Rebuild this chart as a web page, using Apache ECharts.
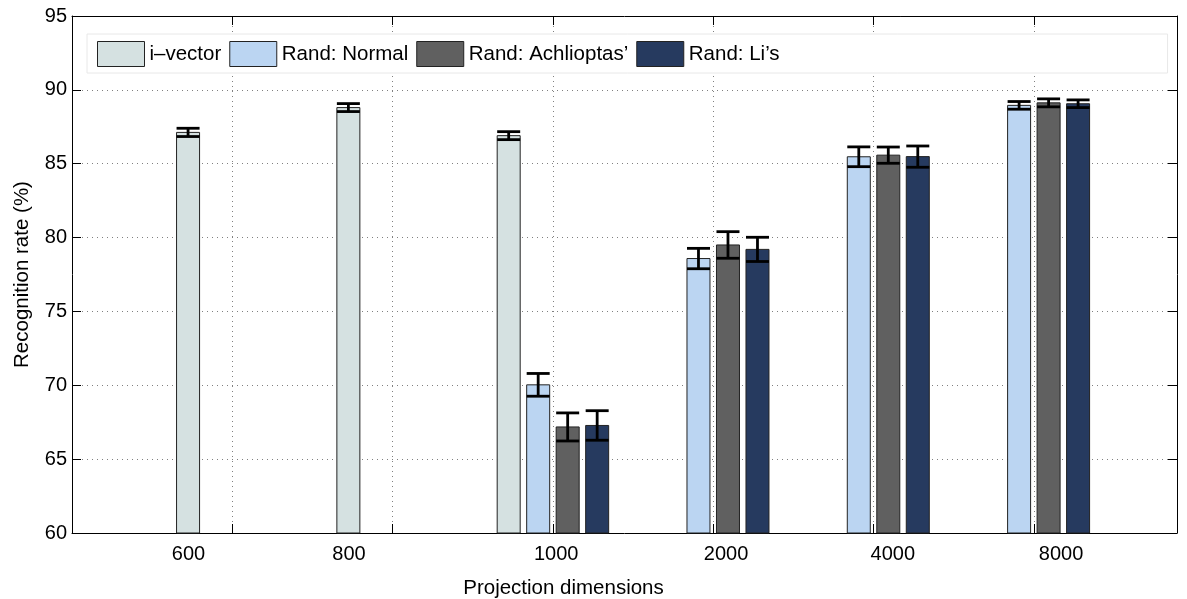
<!DOCTYPE html>
<html><head><meta charset="utf-8">
<script src="https://cdn.jsdelivr.net/npm/echarts@6/dist/echarts.min.js"></script>
<style>html,body{margin:0;padding:0;background:#fff}#c{width:1187px;height:599px}</style>
</head><body><div id="c"></div>
<script>
// ---- data ----
const categories = ['600', '800', '1000', '2000', '4000', '8000'];
const categoryLabelAt = [0.727, 1.728, 3.02, 4.08, 5.12, 6.17];
const seriesNames = ['i\u2013vector', 'Rand: Normal', 'Rand: Achlioptas\u2019', 'Rand: Li\u2019s'];
const ivector = [87.12, 88.80, 86.90, null, null, null];
const ivectorErr = [0.28, 0.27, 0.27, null, null, null];
const randNormal = [null, null, 70.03, 78.58, 85.47, 88.95];
const randNormalErr = [null, null, 0.77, 0.69, 0.67, 0.26];
const randAchlioptas = [null, null, 67.18, 79.50, 85.58, 89.12];
const randAchlioptasErr = [null, null, 0.95, 0.90, 0.55, 0.27];
const randLi = [null, null, 67.28, 79.20, 85.48, 89.06];
const randLiErr = [null, null, 1.00, 0.82, 0.72, 0.26];
const yTickMin = 60, yTickMax = 95, yTickStep = 5;

// ---- layout / style ----
const X_MAX = 6.893, GROUP_OFFSET = 0.724, SLOT = 0.184, BAR_W = 0.1435;
const colors = ['#d5e1e1', '#bbd5f2', '#606060', '#263a5f'];
const FONT = 'Liberation Sans, Arial, Helvetica, sans-serif';
const values = [ivector, randNormal, randAchlioptas, randLi];
const errors = [ivectorErr, randNormalErr, randAchlioptasErr, randLiErr];

function makeRender(slot) {
  return function (params, api) {
    const k = api.value(0), v = api.value(1), e = api.value(2);
    const x = k + GROUP_OFFSET + slot * SLOT;
    const top = api.coord([x, v]);
    const base = api.coord([x, yTickMin]);
    const hi = api.coord([x, v + e]);
    const lo = api.coord([x, v - e]);
    const w = api.size([BAR_W, 0])[0];
    const st = api.style();
    const ls = { stroke: '#000', lineWidth: 2.8 };
    return {
      type: 'group',
      children: [
        { type: 'rect', shape: { x: top[0] - w / 2, y: top[1], width: w, height: base[1] - top[1] },
          style: { fill: st.fill, stroke: '#222', lineWidth: 1 } },
        { type: 'line', shape: { x1: top[0], y1: hi[1], x2: top[0], y2: lo[1] }, style: ls },
        { type: 'line', shape: { x1: top[0] - w / 2, y1: hi[1], x2: top[0] + w / 2, y2: hi[1] }, style: ls },
        { type: 'line', shape: { x1: top[0] - w / 2, y1: lo[1], x2: top[0] + w / 2, y2: lo[1] }, style: ls }
      ]
    };
  };
}

const series = seriesNames.map((name, s) => ({
  type: 'custom',
  name: name,
  xAxisIndex: 0, yAxisIndex: 0,
  itemStyle: { color: colors[s], borderColor: '#222', borderWidth: 1 },
  renderItem: makeRender(s),
  encode: { x: 0, y: 1 },
  data: values[s].map((v, k) => v == null ? null : [k, v, errors[s][k]]).filter(d => d)
}));

const chart = echarts.init(document.getElementById('c'), null, { renderer: 'canvas' });
chart.setOption({
  animation: false,
  backgroundColor: '#fff',
  textStyle: { fontFamily: FONT, color: '#000' },
  grid: { left: 72, right: 10, top: 16, bottom: 66, containLabel: false, outerBoundsMode: 'none' },
  legend: {
    left: 87, top: 34,
    orient: 'horizontal',
    padding: [7, 388, 6, 10],
    itemWidth: 47, itemHeight: 25, itemGap: 8,
    backgroundColor: '#fff',
    borderColor: '#e8e8e8', borderWidth: 1,
    textStyle: { fontFamily: FONT, fontSize: 20.5, color: '#000' },
    data: seriesNames.map((n, s) => ({
      name: n, icon: 'rect',
      itemStyle: { color: colors[s], borderColor: '#222', borderWidth: 1 }
    }))
  },
  xAxis: [{
    type: 'value', position: 'bottom', min: 0, max: X_MAX, interval: 1,
    name: 'Projection dimensions', nameLocation: 'middle', nameGap: 45,
    nameTextStyle: { fontFamily: FONT, fontSize: 20.5, color: '#000', padding: [0, 122, 0, 0] },
    axisLine: { show: true, onZero: false, lineStyle: { color: '#000', width: 1 } },
    axisTick: { show: true, inside: true, length: 9, lineStyle: { color: '#000' } },
    axisLabel: {
      show: true, margin: 11, fontFamily: FONT, fontSize: 20, color: '#000',
      customValues: categoryLabelAt,
      formatter: v => {
        let best = 0;
        categoryLabelAt.forEach((p, i) => { if (Math.abs(p - v) < Math.abs(categoryLabelAt[best] - v)) best = i; });
        return categories[best];
      }
    },
    splitLine: { show: true, lineStyle: { color: '#808080', width: 1, type: [1, 4] } }
  }, {
    type: 'value', position: 'top', min: 0, max: X_MAX, interval: 1,
    axisLine: { show: true, onZero: false, lineStyle: { color: '#000', width: 1 } },
    axisTick: { show: true, inside: true, length: 9, lineStyle: { color: '#000' } },
    axisLabel: { show: false }, splitLine: { show: false }
  }],
  yAxis: [{
    type: 'value', position: 'left', min: yTickMin, max: yTickMax, interval: yTickStep,
    name: 'Recognition rate (%)', nameLocation: 'middle', nameGap: 39, nameRotate: 90,
    nameTextStyle: { fontFamily: FONT, fontSize: 20.5, color: '#000' },
    axisLine: { show: true, onZero: false, lineStyle: { color: '#000', width: 1 } },
    axisTick: { show: true, inside: true, length: 9, lineStyle: { color: '#000' } },
    axisLabel: { show: true, margin: 5, fontFamily: FONT, fontSize: 20, color: '#000' },
    splitLine: { show: true, lineStyle: { color: '#808080', width: 1, type: [1, 4] } }
  }, {
    type: 'value', position: 'right', min: yTickMin, max: yTickMax, interval: yTickStep,
    axisLine: { show: true, onZero: false, lineStyle: { color: '#000', width: 1 } },
    axisTick: { show: true, inside: true, length: 9, lineStyle: { color: '#000' } },
    axisLabel: { show: false }, splitLine: { show: false }
  }],
  series: series
});
</script>
</body></html>
